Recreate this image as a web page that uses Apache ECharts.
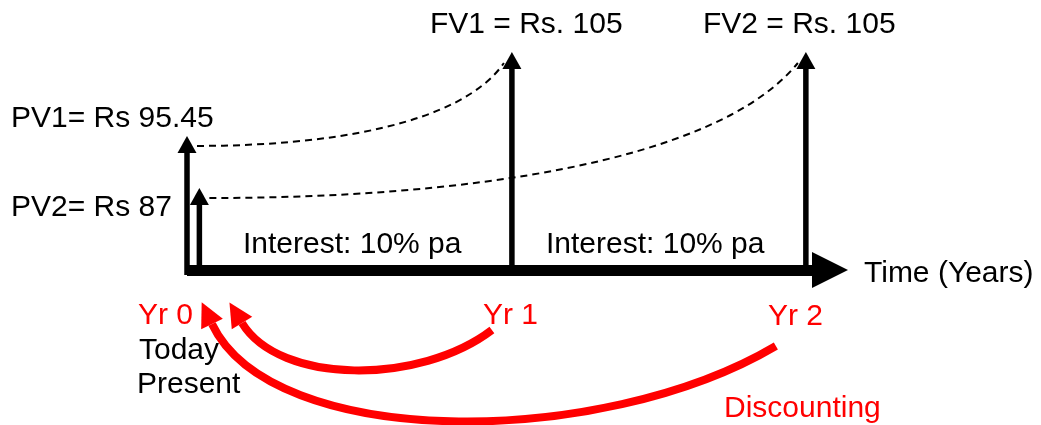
<!DOCTYPE html>
<html>
<head>
<meta charset="utf-8">
<script src="https://cdn.jsdelivr.net/npm/echarts@6.0.0/dist/echarts.min.js"></script>
<style>
  html, body { margin: 0; padding: 0; background: #fff; }
  #main { width: 1041px; height: 425px; }
</style>
</head>
<body>
<div id="main"></div>
<script>
const yearLabels = ['Yr 0', 'Yr 1', 'Yr 2'];
const yearAt = [0, 1.05, 2];          // where each year sits on the drawn time line
const presentValues = [95.45, 87];
const futureValues = [105, 105];
const pvAt = [0, 0.04];               // PV2 arrow is drawn just right of PV1
const pvHeights = [61.5, 37.6];       // drawn arrow heights, schematic 0-100 scale
const fvHeights = [100, 100];
const interestRate = 10;
const discountFrom = [1, 2];

const font = '30px "Liberation Sans", Arial, sans-serif';
const red = '#ff0000';

const chart = echarts.init(document.getElementById('main'))

// vertical black arrow: shaft from the time line up to the value
function renderArrow(params, api) {
  const base = api.coord([api.value(0), 0]);
  const tip = api.coord([api.value(0), api.value(1)]);
  const headH = 17, headW = 19, shaftW = 5.5;
  return {
    type: 'group',
    children: [
      {
        type: 'rect',
        shape: { x: tip[0] - shaftW / 2, y: tip[1] + headH - 1, width: shaftW, height: base[1] - tip[1] - headH + 6 },
        style: { fill: '#000' }
      },
      {
        type: 'polygon',
        shape: { points: [[tip[0], tip[1]], [tip[0] - headW / 2, tip[1] + headH], [tip[0] + headW / 2, tip[1] + headH]] },
        style: { fill: '#000' }
      }
    ]
  };
}

// dashed compounding curve from a PV arrow to its FV arrow
function renderGrowth(params, api) {
  const a = api.coord([api.value(0), api.value(1)]);
  const b = api.coord([api.value(2), api.value(3)]);
  const x0 = a[0] + 10, y0 = a[1] + 10;
  const x3 = b[0] - 8, y3 = b[1] + 11;
  const dx = x3 - x0, dy = y0 - y3;
  return {
    type: 'bezierCurve',
    shape: {
      x1: x0, y1: y0, x2: x3, y2: y3,
      cpx1: x0 + 0.42 * dx, cpy1: y0,
      cpx2: x3 - 0.14 * dx, cpy2: y3 + 0.75 * dy
    },
    style: { stroke: '#000', lineWidth: 2, lineDash: [7, 5], fill: 'none' }
  };
}

// red discounting arrows, pixel offsets for the bend of each one
const bends = [
  { s: [-20, 60], c1: [-72, 55], c2: [38, 62], b: [55, 53] },
  { s: [-30, 76], c1: [-176, 104], c2: [60, 126], b: [25, 54] }
];
function renderDiscount(params, api) {
  const from = api.coord([api.value(0), 0]);
  const to = api.coord([api.value(1), 0]);
  const g = bends[params.dataIndex];
  const p0 = [from[0] + g.s[0], from[1] + g.s[1]];
  const pb = [to[0] + g.b[0], to[1] + g.b[1]];
  const c1 = [p0[0] + g.c1[0], p0[1] + g.c1[1]];
  const c2 = [pb[0] + g.c2[0], pb[1] + g.c2[1]];
  const len = Math.hypot(pb[0] - c2[0], pb[1] - c2[1]);
  const u = [(pb[0] - c2[0]) / len, (pb[1] - c2[1]) / len];
  const headL = 24, headW = 24;
  const tip = [pb[0] + u[0] * headL, pb[1] + u[1] * headL];
  const n = [-u[1], u[0]];
  return {
    type: 'group',
    children: [
      {
        type: 'bezierCurve',
        shape: { x1: p0[0], y1: p0[1], x2: pb[0], y2: pb[1], cpx1: c1[0], cpy1: c1[1], cpx2: c2[0], cpy2: c2[1] },
        style: { stroke: red, lineWidth: 8, fill: 'none' }
      },
      {
        type: 'polygon',
        shape: { points: [tip, [pb[0] + n[0] * headW / 2, pb[1] + n[1] * headW / 2], [pb[0] - n[0] * headW / 2, pb[1] - n[1] * headW / 2]] },
        style: { fill: red }
      }
    ]
  };
}

function label(text, x, y, color) {
  return { type: 'text', x: x, y: y, silent: true,
    style: { text: text, font: font, fill: color || '#000', align: 'left', verticalAlign: 'middle' } };
}

const texts = [
  label('FV1 = Rs. ' + futureValues[0], 430, 25),
  label('FV2 = Rs. ' + futureValues[1], 703, 25),
  label('PV1= Rs ' + presentValues[0], 11, 119),
  label('PV2= Rs ' + presentValues[1], 11, 207.5),
  label('Interest: ' + interestRate + '% pa', 243, 244.5),
  label('Interest: ' + interestRate + '% pa', 546, 244.5),
  label('Time (Years)', 864, 274),
  label(yearLabels[0], 138, 316, red),
  label('Today', 139, 351),
  label('Present', 137, 385),
  label(yearLabels[1], 483, 316, red),
  label(yearLabels[2], 768, 317, red),
  label('Discounting', 724, 409, red)
];

chart.setOption({
  animation: false,
  backgroundColor: '#fff',
  grid: { left: 187, top: 52, width: 643, height: 218 },
  xAxis: {
    type: 'value', min: 0, max: 2.078,
    axisLine: { show: true, onZero: false, symbol: ['none', 'triangle'], symbolSize: [36, 36], lineStyle: { color: '#000', width: 11, cap: 'butt' } },
    axisTick: { show: false }, axisLabel: { show: false }, splitLine: { show: false }
  },
  yAxis: {
    type: 'value', min: 0, max: 100, show: false
  },
  graphic: texts,
  series: [
    {
      type: 'custom', name: 'growth', silent: true,
      renderItem: renderGrowth,
      data: presentValues.map((v, i) => [pvAt[i], pvHeights[i], yearAt[i + 1], fvHeights[i]])
    },
    {
      type: 'custom', name: 'amounts', silent: true,
      renderItem: renderArrow,
      data: [
        [pvAt[0], pvHeights[0]],
        [pvAt[1], pvHeights[1]],
        [yearAt[1], fvHeights[0]],
        [yearAt[2], fvHeights[1]]
      ]
    },
    {
      type: 'custom', name: 'discounting', silent: true,
      renderItem: renderDiscount,
      data: discountFrom.map(k => [yearAt[k], yearAt[0]])
    }
  ]
});
</script>
</body>
</html>
